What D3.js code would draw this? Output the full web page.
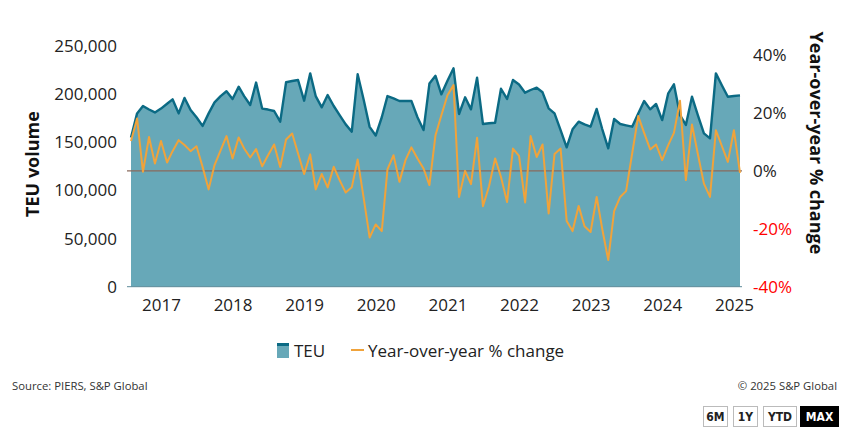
<!DOCTYPE html>
<html>
<head>
<meta charset="utf-8">
<script src="https://cdn.jsdelivr.net/npm/d3@7"></script>
<style>
  body { margin: 0; background: #fff; }
  text { font-family: "Open Sans", sans-serif; }
</style>
</head>
<body>
<svg id="chart" width="847" height="446"></svg>
<script>
// monthly series, Aug 2016 .. Feb 2025
const startMonth = "2016-08";
const teu = [
  155, 180, 187.7, 184, 181, 185, 190, 194.6, 180, 196, 183.5, 176, 167, 180, 191.5, 198, 203,
  195, 207.7, 198, 188.7, 212, 185, 184, 182.5, 171.4, 212.3, 213.6, 214.7, 193.2, 221.6, 198,
  186.3, 199, 187.7, 178.3, 168.6, 161, 220.6, 194, 166, 157, 176, 198, 195.6, 192.9, 192.9,
  193, 176, 162.7, 211, 219, 199.8, 214, 226.8, 179.4, 196.7, 184.2, 217, 169, 169.7, 170.3,
  205.6, 195, 214.7, 210, 201.5, 204.3, 206.7, 201.9, 185.3, 180, 162.7, 144.8, 163.5, 171.4,
  168.6, 166.2, 184.6, 164, 143.7, 174.2, 169, 167.6, 166.2, 180, 192.9, 184.2, 189.8, 173,
  200.8, 210.2, 178.3, 168, 197.3, 178.3, 159.3, 154.1, 221.6, 209, 197.3, 198, 198.7
].map(v => v * 1000);
const yoy = [
  10.3, 18.1, -0.3, 11.7, 2.5, 10.3, 2.9, 6.8, 10.6, 8.9, 6.8, 8.5, 1.4, -6.4, 2, 7.1, 12,
  4.3, 11.5, 7.7, 4.6, 7.5, 1.6, 5.4, 9.1, 1.3, 10.8, 12.9, 6, -1.1, 5.7, -6.4, -1.1, -5.7,
  1.4, -3.2, -7.5, -5.7, 3.9, -9.5, -23, -18.5, -20.8, 0.5, 5.4, -3.8, 3.7, 8.1, 4.3, 0.8,
  -4.9, 12.3, 19.2, 26.1, 29.6, -9, 0, -4.6, 11.4, -12.2, -5.3, 4.3, -2.1, -10.8, 7.7, 5.2,
  -10.9, 12, 4.8, 9.1, -14.7, 5.8, 7.7, -17.3, -20.8, -12.1, -19.1, -21.1, -9, -19.9, -30.8,
  -13.9, -9, -7, 6, 18.9, 13.1, 7.4, 9.1, 3.7, 8.9, 13.1, 24.2, -3.2, 16, 5.8, -4.4, -9, 14,
  8.5, 3.1, 14, -0.7
];
const leftTicks = [0, 50000, 100000, 150000, 200000, 250000];
const rightTicks = [-40, -20, 0, 20, 40];
const yearTicks = ["2017", "2018", "2019", "2020", "2021", "2022", "2023", "2024", "2025"];

const parseMonth = d3.timeParse("%Y-%m");
const months = d3.range(teu.length).map(i => d3.timeMonth.offset(parseMonth(startMonth), i));
const data = months.map((d, i) => ({ date: d, teu: teu[i], yoy: yoy[i] }));

const svg = d3.select("#chart");
const left = 131, right = 740, bottom = 286.7;

const x = d3.scaleTime().domain(d3.extent(months)).range([left, right]);
const yL = d3.scaleLinear().domain([0, 250000]).range([bottom, 46]);
const yR = d3.scaleLinear().domain([-40, 40]).range([bottom, 55]);

// TEU area
svg.append("path")
  .datum(data)
  .attr("fill", "#67a8b8")
  .attr("d", d3.area().x(d => x(d.date)).y0(yL(0)).y1(d => yL(d.teu)));

svg.append("path")
  .datum(data)
  .attr("fill", "none")
  .attr("stroke", "#0b6a84")
  .attr("stroke-width", 2.4)
  .attr("stroke-linejoin", "round")
  .attr("d", d3.line().x(d => x(d.date)).y(d => yL(d.teu)));

// baseline + zero line
svg.append("line")
  .attr("x1", left - 4).attr("x2", right + 2)
  .attr("y1", yL(0)).attr("y2", yL(0))
  .attr("stroke", "#5e8a99").attr("stroke-width", 1);

svg.append("line")
  .attr("x1", left - 4).attr("x2", right + 2)
  .attr("y1", yR(0)).attr("y2", yR(0))
  .attr("stroke", "#8a6a5c").attr("stroke-width", 1.2);

// yoy line
svg.append("path")
  .datum(data)
  .attr("fill", "none")
  .attr("stroke", "#f0a33b")
  .attr("stroke-width", 2)
  .attr("stroke-linejoin", "round")
  .attr("d", d3.line().x(d => x(d.date)).y(d => yR(d.yoy)));

// axes
const axisL = svg.append("g")
  .attr("transform", "translate(" + (left - 14) + ",0)")
  .call(d3.axisLeft(yL).tickValues(leftTicks).tickFormat(d3.format(",")).tickSize(0).tickPadding(0));

const axisR = svg.append("g")
  .attr("transform", "translate(" + (right + 13) + ",0)")
  .call(d3.axisRight(yR).tickValues(rightTicks).tickFormat(d => d + "%").tickSize(0).tickPadding(0));

const axisX = svg.append("g")
  .attr("transform", "translate(0," + (bottom + 10) + ")")
  .call(d3.axisBottom(x).tickValues(yearTicks.map(y => parseMonth(y + "-01")))
    .tickFormat(d3.timeFormat("%Y")).tickSize(0).tickPadding(0));

[axisL, axisR, axisX].forEach(a => {
  a.select(".domain").remove();
  a.selectAll("text")
    .style("font-family", "'Open Sans', sans-serif")
    .style("font-size", "17px")
    .attr("fill", "#222");
});
axisX.selectAll("text").attr("dy", "0.85em");
axisR.selectAll("text").attr("fill", d => d < 0 ? "#ff0000" : "#222");

// axis titles
svg.append("text")
  .attr("transform", "translate(39,164) rotate(-90)")
  .attr("text-anchor", "middle")
  .style("font-size", "18px")
  .style("font-weight", "bold")
  .attr("fill", "#111")
  .text("TEU volume");

svg.append("text")
  .attr("transform", "translate(810,143) rotate(90)")
  .attr("text-anchor", "middle")
  .style("font-size", "18px")
  .style("font-weight", "bold")
  .attr("fill", "#111")
  .text("Year-over-year % change");

// legend
const lg = svg.append("g");
lg.append("rect").attr("x", 277).attr("y", 343).attr("width", 12).attr("height", 15).attr("fill", "#67a8b8");
lg.append("rect").attr("x", 277).attr("y", 343).attr("width", 12).attr("height", 3).attr("fill", "#0b6a84");
lg.append("text").attr("x", 294).attr("y", 357).style("font-size", "17px").attr("fill", "#222").text("TEU");
lg.append("line").attr("x1", 351).attr("x2", 364).attr("y1", 350).attr("y2", 350)
  .attr("stroke", "#f0a33b").attr("stroke-width", 2);
lg.append("text").attr("x", 368).attr("y", 357).style("font-size", "17px").attr("fill", "#222")
  .text("Year-over-year % change");

// footer
svg.append("text").attr("x", 12).attr("y", 390).style("font-size", "11.3px").attr("fill", "#333")
  .text("Source: PIERS, S&P Global");
svg.append("text").attr("x", 837).attr("y", 390).attr("text-anchor", "end")
  .style("font-size", "11.3px").attr("fill", "#333").text("\u00a9 2025 S&P Global");

// range buttons
const buttons = [
  { label: "6M", x: 703, w: 24 },
  { label: "1Y", x: 733, w: 24 },
  { label: "YTD", x: 763, w: 33 },
  { label: "MAX", x: 800, w: 38 }
];
const btn = svg.selectAll(".btn").data(buttons).enter().append("g").attr("class", "btn");
btn.append("rect")
  .attr("x", d => d.x + 0.5).attr("y", 406.5)
  .attr("width", d => d.w).attr("height", 20)
  .attr("fill", d => d.label === "MAX" ? "#000" : "#fff")
  .attr("stroke", d => d.label === "MAX" ? "#000" : "#bbb");
btn.append("text")
  .attr("x", d => d.x + 0.5 + d.w / 2).attr("y", 421)
  .attr("text-anchor", "middle")
  .style("font-family", "'DejaVu Sans Condensed', 'DejaVu Sans', sans-serif")
  .style("font-size", "12px").style("font-weight", "bold")
  .attr("fill", d => d.label === "MAX" ? "#fff" : "#222")
  .text(d => d.label);
</script>
</body>
</html>
